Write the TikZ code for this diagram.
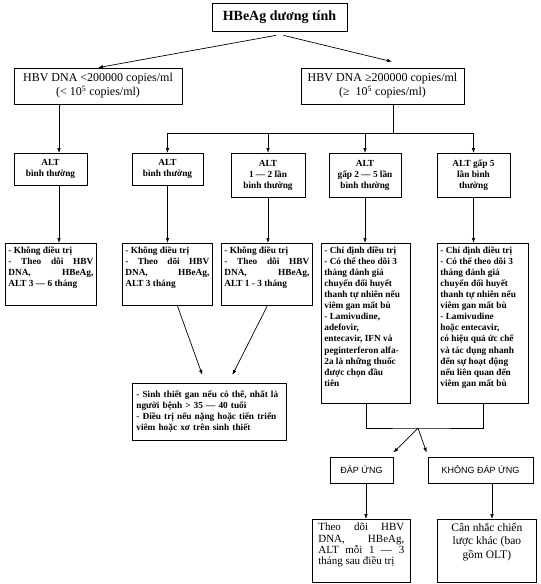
\documentclass[tikz,border=0pt]{standalone}
\usepackage{fontspec}
\setmainfont{Liberation Serif}
\newfontfamily\arialfont{Liberation Sans}
\usetikzlibrary{arrows.meta,calc}

\newcommand{\smallbf}{\fontsize{9.3}{11.1}\selectfont\bfseries}
\newcommand{\cellbox}[3]{\parbox[t][#1][t]{#2}{#3}}

\begin{document}
\begin{tikzpicture}[x=1pt,y=-1pt,
    line width=0.7pt,>={Latex[length=5pt,width=3.6pt]},
    box/.style={draw,line width=0.7pt},
    dna/.style={box,align=center,font=\fontsize{12}{14}\selectfont,minimum height=36pt,inner sep=1pt},
    alt/.style={box,anchor=north,align=center,font=\smallbf,inner sep=1pt},
    cell/.style={box,anchor=north west,inner xsep=3pt,inner ysep=3pt,font=\smallbf},
    answer/.style={box,font=\arialfont\fontsize{9}{11}\selectfont,minimum height=26pt,inner sep=1pt}
  ]
  \useasboundingbox (0,0) rectangle (541,584);

  \node[box,font=\bfseries\fontsize{14}{16}\selectfont,minimum width=135pt,minimum height=28pt] (pos) at (279.5,17) {HBeAg dương tính};

  \node[dna,minimum width=168pt] (dnaL) at (98,86) {HBV DNA <200000 copies/ml\\(< 10\textsuperscript{5} copies/ml)};
  \node[dna,minimum width=163pt] (dnaR) at (382.5,86) {HBV DNA ≥200000 copies/ml\\(≥\ \ 10\textsuperscript{5} copies/ml)};

  \node[alt,minimum width=73pt,minimum height=32pt] (alt1) at (50.5,153) {ALT\\bình thường};
  \node[alt,minimum width=71pt,minimum height=32pt] (alt2) at (167.5,153) {ALT\\bình thường};
  \node[alt,minimum width=74pt,minimum height=44pt] (alt3) at (268,153) {ALT\\1 — 2 lần\\bình thường};
  \node[alt,minimum width=72pt,minimum height=44pt] (alt4) at (365,153) {ALT\\gấp 2 — 5 lần\\bình thường};
  \node[alt,minimum width=73pt,minimum height=44pt] (alt5) at (473.5,153) {ALT gấp 5\\lần bình\\thường};

  \node[cell] (res1) at (5,243) {\cellbox{56pt}{85pt}{- Không điều trị\\ - Theo dõi HBV\linebreak DNA, HBeAg,\linebreak ALT 3 — 6 tháng}};
  \node[cell] (res2) at (122,243) {\cellbox{56pt}{84pt}{- Không điều trị\\ - Theo dõi HBV\linebreak DNA, HBeAg,\linebreak ALT 3 tháng}};
  \node[cell] (res3) at (221,243) {\cellbox{56pt}{85pt}{- Không điều trị\\ - Theo dõi HBV\linebreak DNA, HBeAg,\linebreak ALT 1 - 3 tháng}};
  \node[cell] (res4) at (321,243) {\cellbox{154pt}{83pt}{\raggedright
    - Chỉ định điều trị\\ - Có thể theo dõi 3\\ tháng đánh giá\\ chuyển đổi huyết\\ thanh tự nhiên nếu\\ viêm gan mất bù\\
    - Lamivudine,\\ adefovir,\\ entecavir, IFN và\\ peginterferon alfa-\\ 2a là những thuốc\\ được chọn đầu\\ tiên}};
  \node[cell] (res5) at (437,243) {\cellbox{154pt}{85pt}{\raggedright
    - Chỉ định điều trị\\ - Có thể theo dõi 3\\ tháng đánh giá\\ chuyển đổi huyết\\ thanh tự nhiên nếu\\ viêm gan mất bù\\
    - Lamivudine\\ hoặc entecavir,\\ có hiệu quả ức chế\\ và tác dụng nhanh\\ đến sự hoạt động\\ nếu liên quan đến\\ viêm gan mất bù}};

  \node[box,anchor=north west,text width=146pt,minimum height=57pt,inner xsep=4pt,inner ysep=2pt,align=left,font=\smallbf] (sinh) at (132,383)
    {- Sinh thiết gan nếu có thể, nhất là\\ người bệnh > 35 — 40 tuổi\\ - Điều trị nếu nặng hoặc tiến triển\\ viêm hoặc xơ trên sinh thiết};

  \node[answer,minimum width=63pt] (dap) at (361.5,470) {ĐÁP ỨNG};
  \node[answer,minimum width=105pt] (khong) at (480.5,470) {KHÔNG ĐÁP ỨNG};

  \node[box,anchor=north west,inner xsep=6pt,inner ysep=4pt,font=\fontsize{11}{11.3}\selectfont] (theo) at (312,519)
    {\cellbox{55pt}{86pt}{Theo dõi HBV\linebreak DNA, HBeAg,\linebreak ALT mỗi 1 — 3\linebreak tháng sau điều trị}};
  \node[box,anchor=north west,inner xsep=7pt,inner ysep=4pt,font=\fontsize{11.5}{13.3}\selectfont] (can) at (437,519)
    {\cellbox{55pt}{85pt}{\centering Cân nhắc chiến\\ lược khác (bao\\ gồm OLT)}};

  \draw[->] ($(pos.south)+(-3.5,4)$) -- (dnaL.north);
  \draw[->] ($(pos.south)+(4,4)$) -- ($(dnaR.north)+(9.5,-6)$);

  \coordinate (colL) at (59,0);
  \draw[->] (dnaL.south -| colL) -- (alt1.north -| colL);
  \draw[->] (alt1.south -| colL) -- (res1.north -| colL);

  \coordinate (bus) at (393,133);
  \draw (dnaR.south -| bus) -- (bus);
  \draw (alt2.north |- bus) -- (alt5.north |- bus);
  \foreach \n in {alt2,alt3,alt4,alt5}
    \draw[->] (\n.north |- bus) -- (\n.north);
  \foreach \n/\m in {alt2/res2,alt3/res3,alt4/res4,alt5/res5}
    \draw[->] (\n.south) -- (\n.south |- \m.north);

  \draw[->] ($(res2.south)+(10,0)$) -- ($(sinh.north)+(-7,-8)$);
  \draw[->] ($(res3.south)+(0.5,0)$) -- ($(sinh.north)+(23,-8)$);

  \coordinate (mrg) at (418,428);
  \draw (res4.south) |- (mrg) -| (res5.south);
  \draw[->] (mrg) -- ($(dap.north east)+(0,-4)$);
  \draw[->] (mrg) -- ($(khong.north west)+(-1,-4)$);

  \coordinate (colD) at (366,0);
  \coordinate (colK) at (492,0);
  \draw[->] (dap.south -| colD) -- (theo.north -| colD);
  \draw[->] (khong.south -| colK) -- (can.north -| colK);
\end{tikzpicture}
\end{document}
